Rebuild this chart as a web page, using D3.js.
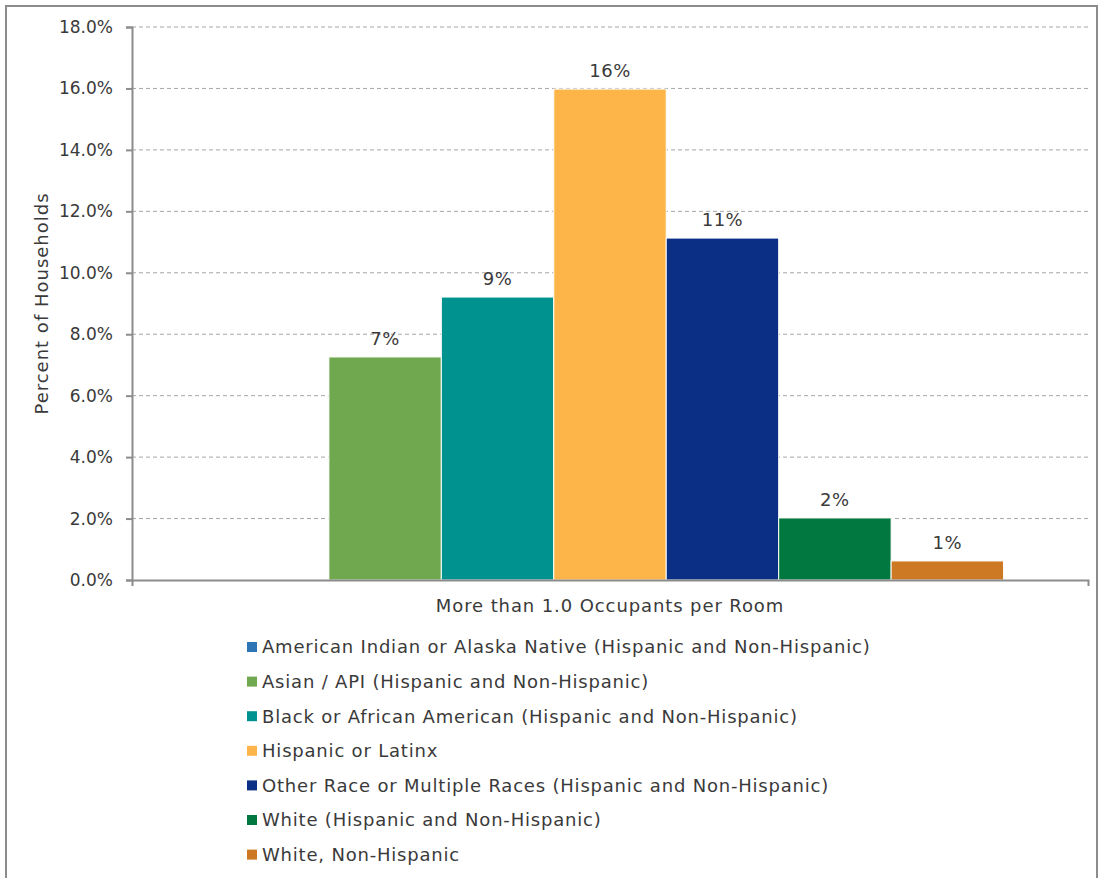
<!DOCTYPE html>
<html><head><meta charset="utf-8">
<script src="https://cdn.jsdelivr.net/npm/d3@7"></script>
<style>body{margin:0;background:#fff}svg{display:block}text{font-family:"DejaVu Sans",sans-serif;fill:#3a3a3a}</style>
</head><body><div id="chart"></div>
<script>
const category = "More than 1.0 Occupants per Room";
const series = [
  "American Indian or Alaska Native (Hispanic and Non-Hispanic)",
  "Asian / API (Hispanic and Non-Hispanic)",
  "Black or African American (Hispanic and Non-Hispanic)",
  "Hispanic or Latinx",
  "Other Race or Multiple Races (Hispanic and Non-Hispanic)",
  "White (Hispanic and Non-Hispanic)",
  "White, Non-Hispanic"
];
const values = [null, 0.0726, 0.0921, 0.1598, 0.1113, 0.0202, 0.0062];
const labels = ["", "7%", "9%", "16%", "11%", "2%", "1%"];
const colors = ["#2E75B6", "#70A84F", "#00928F", "#FDB54A", "#0C2F86", "#00783F", "#CD7822"];
const yTicks = [0, 0.02, 0.04, 0.06, 0.08, 0.10, 0.12, 0.14, 0.16, 0.18];

const W = 1098, H = 878;
const m = {left: 132, right: 10, top: 27, bottom: 298};
const svg = d3.select("#chart").append("svg").attr("width", W).attr("height", H);

svg.append("rect").attr("x", 6).attr("y", 6).attr("width", W - 7).attr("height", H - 5)
  .attr("fill", "none").attr("stroke", "#8c8c8c").attr("stroke-width", 2);

const x0 = d3.scaleBand().domain([category]).range([m.left, W - m.right]).paddingInner(0).paddingOuter(0);
const x1 = d3.scaleBand().domain(series).range([x0(category) + x0.bandwidth() * 0.0883, x0(category) + x0.bandwidth() * 0.9117]);
const y = d3.scaleLinear().domain([0, 0.18]).range([H - m.bottom, m.top]);

// gridlines
svg.append("g").selectAll("line").data(yTicks.filter(d => d > 0)).join("line")
  .attr("x1", m.left).attr("x2", W - m.right)
  .attr("y1", d => y(d)).attr("y2", d => y(d))
  .attr("stroke", "#a6a6a6").attr("stroke-width", 1).attr("stroke-dasharray", "4,3");

// bars
svg.append("g").selectAll("rect").data(series.map((s, i) => ({s, v: values[i], c: colors[i], l: labels[i]})).filter(d => d.v != null))
  .join("rect")
  .attr("x", d => x1(d.s)).attr("width", x1.bandwidth())
  .attr("y", d => y(d.v)).attr("height", d => y(0) - y(d.v))
  .attr("fill", d => d.c).attr("stroke", "#fff").attr("stroke-width", 1);

svg.append("g").selectAll("text").data(series.map((s, i) => ({s, v: values[i], l: labels[i]})).filter(d => d.v != null))
  .join("text")
  .attr("x", d => x1(d.s) + x1.bandwidth() / 2).attr("y", d => y(d.v) - 12)
  .attr("text-anchor", "middle").attr("font-size", 18).attr("letter-spacing", 0.5).text(d => d.l);

// y axis
const ya = svg.append("g").attr("transform", `translate(${m.left},0)`)
  .call(d3.axisLeft(y).tickValues(yTicks).tickFormat(d3.format(".1%")).tickSize(6).tickPadding(13));
ya.select(".domain").attr("stroke", "#8c8c8c").attr("stroke-width", 2);
ya.selectAll(".tick line").attr("stroke", "#8c8c8c").attr("stroke-width", 2);
ya.selectAll(".tick text").attr("font-size", 17).attr("font-family", "DejaVu Sans").attr("fill", "#3a3a3a");

// x axis
const xa = svg.append("g").attr("transform", `translate(0,${y(0)})`)
  .call(d3.axisBottom(x0).tickSize(0).tickSizeOuter(6).tickFormat(() => ""));
xa.select(".domain").attr("stroke", "#8c8c8c").attr("stroke-width", 2);

svg.append("text").attr("x", x0(category) + x0.bandwidth() / 2).attr("y", y(0) + 32)
  .attr("text-anchor", "middle").attr("font-size", 18).attr("letter-spacing", 0.9).text(category);

svg.append("text").attr("transform", `translate(48,${(m.top + H - m.bottom) / 2}) rotate(-90)`)
  .attr("text-anchor", "middle").attr("font-size", 18).attr("letter-spacing", 1).text("Percent of Households");

// legend
const lg = svg.append("g").selectAll("g").data(series).join("g")
  .attr("transform", (d, i) => `translate(247,${647 + i * 34.6})`);
lg.append("rect").attr("x", 0).attr("y", -5).attr("width", 10).attr("height", 10).attr("fill", (d, i) => colors[i]);
lg.append("text").attr("x", 15).attr("y", 0).attr("dy", "0.35em").attr("font-size", 18).attr("letter-spacing", 0.8).text(d => d);
</script></body></html>
